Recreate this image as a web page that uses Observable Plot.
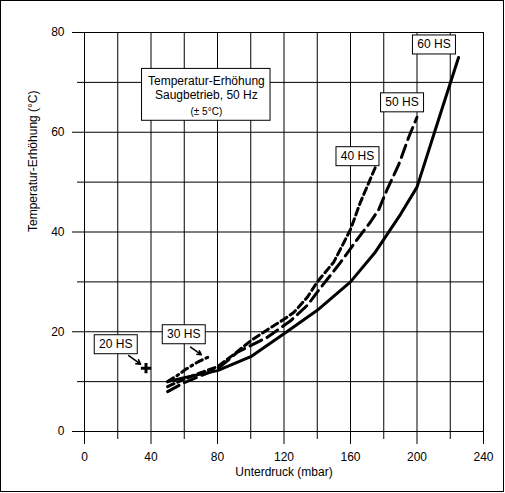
<!DOCTYPE html>
<html><head><meta charset="utf-8">
<script src="https://cdn.jsdelivr.net/npm/d3@7"></script>
<script src="https://cdn.jsdelivr.net/npm/@observablehq/plot@0.6"></script>
<style>
html,body{margin:0;padding:0;background:#fff;}
#chart{width:505px;height:493px;}
</style></head><body><div id="chart"></div>
<script>
// Series (x = Unterdruck in mbar, y = Temperatur-Erhöhung in °C)
const hs60X = [50, 60, 80, 100, 120, 140, 160, 175, 190, 200, 214, 225];
const hs60Y = [10, 10.8, 12.2, 15, 19.6, 24.3, 30, 36, 43.5, 49, 63.6, 75];
const hs50X = [50, 60, 70, 80, 92, 110, 124, 134, 142, 154, 164, 172, 177, 182, 189, 195, 200];
const hs50Y = [8, 9.8, 11.2, 12.5, 15.9, 18.9, 22.2, 25.3, 28.8, 33.9, 38.5, 42, 44.5, 48.5, 53.5, 59, 63];
const hs40X = [50, 60, 70, 80, 90, 100, 110, 120, 126, 134, 140, 150, 160, 166, 175];
const hs40Y = [9, 10.5, 11.8, 13, 15.5, 18.2, 20.4, 22.5, 23.9, 26.9, 30, 34, 40.5, 46, 53];
const hs30X = [50, 57, 61, 68, 75];
const hs30Y = [10, 11.5, 12.5, 13.9, 15];
const hs20X = [37];
const hs20Y = [12.7];

// Tick values
const xMajorTicks = [0, 40, 80, 120, 160, 200, 240];
const xMinorTicks = [20, 60, 100, 140, 180, 220];
const yMajorTicks = [0, 20, 40, 60, 80];
const yMinorTicks = [10, 30, 50, 70];
const xGrid = [0, 20, 40, 60, 80, 100, 120, 140, 160, 180, 200, 220, 240];
const yGrid = [0, 10, 20, 30, 40, 50, 60, 70, 80];

// Series labels (annotation anchors in data coordinates)
const labelNames = ["60 HS", "50 HS", "40 HS", "30 HS", "20 HS"];
const labelX = [210.2, 191, 164.2, 59.7, 18.8];
const labelY = [77.6, 66, 55.2, 19.5, 17.5];

// Arrows from labels to the 20 HS and 30 HS data
const arrowX1 = [26.6, 63.8];
const arrowY1 = [15.2, 16.9];
const arrowX2 = [33.7, 70.2];
const arrowY2 = [13.5, 15.4];

// Title box text
const titleLines = ["Temperatur-Erhöhung", "Saugbetrieb, 50 Hz"];
const titleNote = "(± 5°C)";

const toRows = (xs, ys) => xs.map((x, i) => ({x, y: ys[i]}));
const s60 = toRows(hs60X, hs60Y);
const s50 = toRows(hs50X, hs50Y);
const s40 = toRows(hs40X, hs40Y);
const s30 = toRows(hs30X, hs30Y);
const s20 = toRows(hs20X, hs20Y);
const labels = labelNames.map((t, i) => ({t, x: labelX[i], y: labelY[i]}));
const arrows = arrowX1.map((x1, i) => ({x1, y1: arrowY1[i], x2: arrowX2[i], y2: arrowY2[i]}));

const font = '"Liberation Sans", Arial, Helvetica, sans-serif';

const chart = Plot.plot({
  width: 505, height: 493,
  marginLeft: 84, marginRight: 22, marginTop: 32, marginBottom: 62,
  style: {fontFamily: font, fontSize: "12px", background: "white", color: "black"},
  x: {domain: [0, 240]},
  y: {domain: [0, 80]},
  marks: [
    Plot.ruleX(xGrid, {y1: 0, y2: 80, stroke: "black", strokeWidth: 1}),
    Plot.ruleY(yGrid, {x1: 0, x2: 240, stroke: "black", strokeWidth: 1}),
    Plot.axisX(xMajorTicks, {tickSize: 13, tickPadding: 8, tickFormat: d => String(d), label: null, fontSize: 12}),
    Plot.axisX(xMinorTicks, {tickSize: 8, tickFormat: () => "", label: null}),
    Plot.axisY(yMajorTicks, {tickSize: 12, tickPadding: 8, tickFormat: d => String(d), label: null, fontSize: 12}),
    Plot.axisY(yMinorTicks, {tickSize: 7, tickFormat: () => "", label: null}),
    Plot.text(["Unterdruck (mbar)"], {frameAnchor: "bottom", dy: 44, fontSize: 12}),
    Plot.text(["Temperatur-Erhöhung (°C)"], {frameAnchor: "left", dx: -51, rotate: -90, fontSize: 12}),
    // Curves
    Plot.line(s60, {x: "x", y: "y", stroke: "black", strokeWidth: 3}),
    Plot.line(s50, {x: "x", y: "y", stroke: "black", strokeWidth: 3, strokeDasharray: "13,6"}),
    Plot.line(s40, {x: "x", y: "y", stroke: "black", strokeWidth: 3, strokeDasharray: "7,4"}),
    Plot.line(s30, {x: "x", y: "y", stroke: "black", strokeWidth: 3, strokeDasharray: "7,4,2,4"}),
    Plot.dot(s20, {x: "x", y: "y", symbol: "plus", r: 3.4, stroke: "black", strokeWidth: 3}),
    Plot.arrow(arrows, {x1: "x1", y1: "y1", x2: "x2", y2: "y2", stroke: "black", strokeWidth: 1.6, headLength: 6, headAngle: 60}),
    // Title box
    Plot.rect([{x1: 34.6, x2: 111.9, y1: 62.3, y2: 72.7}], {x1: "x1", x2: "x2", y1: "y1", y2: "y2", fill: "white", stroke: "black", strokeWidth: 1}),
    Plot.text([titleLines[0]], {x: 73.3, y: 69.4, lineAnchor: "bottom", fontSize: 12}),
    Plot.text([titleLines[1]], {x: 73.3, y: 66.7, lineAnchor: "bottom", fontSize: 12}),
    Plot.text([titleNote], {x: 73.3, y: 63.5, lineAnchor: "bottom", fontSize: 10}),
    // Series labels
    Plot.text(labels, {x: "x", y: "y", text: "t", fontSize: 12, lineAnchor: "middle"})
  ]
});

document.getElementById("chart").appendChild(chart);

// white boxes behind the series labels
const svg = chart.tagName.toLowerCase() === "svg" ? chart : chart.querySelector("svg");
svg.querySelectorAll("text").forEach(t => {
  if (!labelNames.includes(t.textContent)) return;
  const b = t.getBBox();
  const r = document.createElementNS("http://www.w3.org/2000/svg", "rect");
  r.setAttribute("x", Math.round(b.x - 5) + 0.5);
  r.setAttribute("y", Math.round(b.y - 2.7) + 0.5);
  r.setAttribute("width", Math.round(b.width + 10));
  r.setAttribute("height", Math.round(b.height + 5.4));
  r.setAttribute("fill", "white");
  r.setAttribute("stroke", "black");
  const tr = t.getAttribute("transform");
  if (tr) r.setAttribute("transform", tr);
  t.parentNode.insertBefore(r, t);
});

// outer border of the picture
const border = document.createElementNS("http://www.w3.org/2000/svg", "rect");
border.setAttribute("x", 0.5); border.setAttribute("y", 0.5);
border.setAttribute("width", 503); border.setAttribute("height", 491);
border.setAttribute("fill", "none"); border.setAttribute("stroke", "black");
svg.appendChild(border);
</script>
</body></html>
